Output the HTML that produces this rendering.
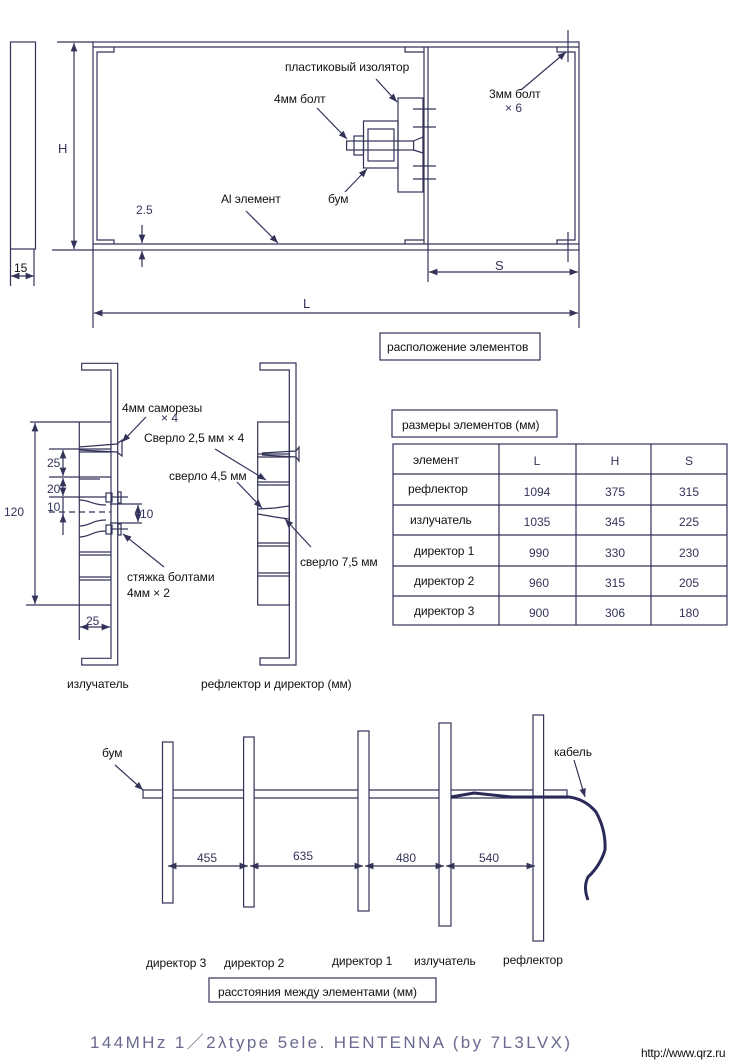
<!DOCTYPE html>
<html><head><meta charset="utf-8"><style>
html,body{margin:0;padding:0;background:#fff;}
svg{display:block;}
text{font-family:"Liberation Sans",sans-serif;font-size:12px;fill:#111;letter-spacing:-0.1px;}
.n{fill:#33335a;letter-spacing:0;}
</style></head><body>
<svg width="739" height="1060" viewBox="0 0 739 1060" xmlns="http://www.w3.org/2000/svg">
<defs>
<marker id="a" viewBox="0 0 10 10" refX="10" refY="5" markerWidth="7" markerHeight="7" orient="auto-start-reverse"><path d="M0,1 L10,5 L0,9 z" fill="#33335a"/></marker>
</defs>
<g stroke="#33335a" stroke-width="1.2" fill="none">
<rect x="10.5" y="42" width="25" height="207"/>
<line x1="10.5" y1="249" x2="10.5" y2="286"/><line x1="34" y1="249" x2="34" y2="286"/>
<line x1="11" y1="276" x2="34" y2="276" marker-start="url(#a)" marker-end="url(#a)"/>
<line x1="57" y1="42" x2="93" y2="42"/><line x1="52" y1="250" x2="93" y2="250"/>
<line x1="74" y1="43" x2="74" y2="249" marker-start="url(#a)" marker-end="url(#a)"/>
<rect x="93" y="42" width="486" height="208"/>
<line x1="93" y1="47" x2="579" y2="47"/><line x1="93" y1="244" x2="579" y2="244"/>
<path d="M114,47 V52 H97 V240 H114 V244"/>
<path d="M405,47 V52 H424 M405,244 V240 H424"/>
<line x1="424" y1="47" x2="424" y2="244"/><line x1="428" y1="47" x2="428" y2="282"/>
<path d="M557,47 V52 H575 V240 H557 V244"/>
<line x1="568" y1="30" x2="568" y2="62"/><line x1="568" y1="232" x2="568" y2="262"/>
<rect x="398" y="98" width="25" height="94"/>
<line x1="413" y1="109" x2="436" y2="109"/><line x1="413" y1="127" x2="436" y2="127"/>
<line x1="413" y1="166" x2="436" y2="166"/><line x1="413" y1="179" x2="436" y2="179"/>
<rect x="363.5" y="121" width="34.5" height="47"/>
<rect x="368" y="129" width="26" height="32"/>
<rect x="346.6" y="141" width="67" height="9"/>
<rect x="354" y="136" width="9.5" height="19"/>
<path d="M413.5,141 L423,137 V153 L413.5,150"/>
<line x1="376" y1="79" x2="397" y2="102" marker-end="url(#a)"/>
<line x1="317" y1="108" x2="347" y2="139" marker-end="url(#a)"/>
<line x1="345" y1="192" x2="367" y2="169" marker-end="url(#a)"/>
<line x1="246" y1="211" x2="278" y2="243" marker-end="url(#a)"/>
<line x1="521" y1="90" x2="566" y2="52" marker-end="url(#a)"/>
<line x1="142" y1="225" x2="142" y2="243" marker-end="url(#a)"/>
<line x1="142" y1="267" x2="142" y2="251" marker-end="url(#a)"/>
<line x1="429" y1="272" x2="578" y2="272" marker-start="url(#a)" marker-end="url(#a)"/>
<line x1="93" y1="250" x2="93" y2="328"/><line x1="579" y1="250" x2="579" y2="328"/>
<line x1="94" y1="313" x2="578" y2="313" marker-start="url(#a)" marker-end="url(#a)"/>
<rect x="380" y="333" width="160" height="27"/>

<path d="M81.7,363.3 H117.7 V665 H81.7 V658.3 H111 V370 H81.7 Z"/>
<line x1="79.3" y1="422" x2="79.3" y2="640"/>
<line x1="30" y1="422" x2="111" y2="422"/>
<line x1="26" y1="605" x2="111" y2="605"/>
<line x1="35" y1="423" x2="35" y2="604" marker-start="url(#a)" marker-end="url(#a)"/>
<line x1="49" y1="449" x2="111" y2="449"/><line x1="79" y1="452" x2="111" y2="452"/>
<line x1="49" y1="477" x2="111" y2="477"/><line x1="79" y1="479" x2="100" y2="479"/>
<line x1="49" y1="497" x2="106" y2="497"/>
<line x1="49" y1="512" x2="111" y2="512" stroke-dasharray="6,4"/>
<line x1="79" y1="552" x2="111" y2="552"/><line x1="79" y1="555" x2="111" y2="555"/>
<line x1="79" y1="577" x2="111" y2="577"/><line x1="79" y1="580" x2="111" y2="580"/>
<path d="M79,500 C90,500 92,505 106,505 M79,526 C90,526 92,520 106,520 M79,537 C90,537 92,531 106,531"/>
<line x1="63" y1="450" x2="63" y2="476" marker-start="url(#a)" marker-end="url(#a)"/>
<line x1="63" y1="478" x2="63" y2="496" marker-start="url(#a)" marker-end="url(#a)"/>
<line x1="63" y1="497" x2="63" y2="535"/>
<line x1="63" y1="522" x2="63" y2="514" marker-end="url(#a)"/>
<line x1="110" y1="504" x2="142" y2="504"/><line x1="110" y1="523" x2="142" y2="523"/>
<line x1="138" y1="505" x2="138" y2="522" marker-start="url(#a)" marker-end="url(#a)"/>
<rect x="106" y="493" width="6" height="9"/><rect x="118" y="492" width="3" height="11"/><line x1="112" y1="497" x2="128" y2="497"/>
<rect x="106" y="525" width="6" height="9"/><rect x="118" y="524" width="3" height="11"/><line x1="112" y1="529" x2="128" y2="529"/>
<path d="M79,447 L117,444 L122,440 V456 L117,452 L79,450"/>
<line x1="146" y1="417" x2="122" y2="442" marker-end="url(#a)"/>
<line x1="164" y1="567" x2="123" y2="534" marker-end="url(#a)"/>
<line x1="80" y1="627" x2="110" y2="627" marker-start="url(#a)" marker-end="url(#a)"/>
<path d="M260,363 H296 V665 H260 V658 H289.3 V370 H260 Z"/>
<rect x="257.7" y="422" width="31.6" height="183"/>
<line x1="258" y1="454" x2="289" y2="454"/><line x1="258" y1="457" x2="289" y2="457"/>
<line x1="258" y1="482" x2="289" y2="482"/><line x1="258" y1="485" x2="289" y2="485"/>
<path d="M258,509 L275,508 L289,506 M258,514 L275,517 L289,519"/>
<line x1="258" y1="543" x2="289" y2="543"/><line x1="258" y1="546" x2="289" y2="546"/>
<line x1="258" y1="573" x2="289" y2="573"/><line x1="258" y1="576" x2="289" y2="576"/>
<path d="M262,453 L296,451 L299,447 V461 L296,457 L262,455"/>
<line x1="215" y1="449" x2="266" y2="480" marker-end="url(#a)"/>
<line x1="237" y1="482" x2="262" y2="508" marker-end="url(#a)"/>
<line x1="311" y1="547" x2="285" y2="519" marker-end="url(#a)"/>
<rect x="392" y="410" width="165" height="27"/>
<rect x="393" y="444" width="334" height="181"/>
<line x1="499" y1="444" x2="499" y2="625"/><line x1="576" y1="444" x2="576" y2="625"/><line x1="651" y1="444" x2="651" y2="625"/>
<line x1="393" y1="474" x2="727" y2="474"/><line x1="393" y1="505" x2="727" y2="505"/><line x1="393" y1="535" x2="727" y2="535"/><line x1="393" y1="566" x2="727" y2="566"/><line x1="393" y1="596" x2="727" y2="596"/>
<path d="M143,790 H567 V798 H143 Z"/>
<rect x="162.5" y="742" width="10.5" height="161" fill="#fff"/>
<rect x="243.6" y="737" width="10.5" height="170" fill="#fff"/>
<rect x="358" y="731" width="11" height="180" fill="#fff"/>
<rect x="439" y="723" width="12" height="203" fill="#fff"/>
<rect x="533" y="715" width="10.6" height="226" fill="#fff"/>
<line x1="168" y1="866" x2="248" y2="866" marker-start="url(#a)" marker-end="url(#a)"/>
<line x1="250" y1="866" x2="363" y2="866" marker-start="url(#a)" marker-end="url(#a)"/>
<line x1="365" y1="866" x2="444" y2="866" marker-start="url(#a)" marker-end="url(#a)"/>
<line x1="446" y1="866" x2="535" y2="866" marker-start="url(#a)" marker-end="url(#a)"/>
<line x1="115" y1="765" x2="143" y2="790" marker-end="url(#a)"/>
<line x1="574" y1="760" x2="585" y2="797" marker-end="url(#a)"/>
<path d="M451,797 L474,793 L511,797 L569,797 Q585,799 596,812 Q606,830 605,850 Q600,866 588,877 Q583,887 588,900" stroke="#2a2a58" stroke-width="3"/>
<rect x="209" y="978" width="227" height="24"/>
</g>

<text x="14" y="272">15</text>
<text x="58" y="153" class="n" style="font-size:13px">H</text>
<text x="285" y="71">пластиковый изолятор</text>
<text x="274" y="103">4мм болт</text>
<text x="328" y="203">бум</text>
<text x="221" y="203">Al элемент</text>
<text x="136" y="214" class="n">2.5</text>
<text x="489" y="98">3мм болт</text>
<text x="505" y="112" class="n">× 6</text>
<text x="495" y="270" class="n" style="font-size:13px">S</text>
<text x="303" y="308" class="n" style="font-size:13px">L</text>
<text x="387" y="351">расположение элементов</text>

<text x="4" y="516" class="n">120</text>
<text x="47" y="467" class="n">25</text>
<text x="47" y="493" class="n">20</text>
<text x="47" y="511" class="n">10</text>
<text x="140" y="518" class="n">10</text>
<text x="122" y="412">4мм саморезы</text>
<text x="161" y="422" class="n">× 4</text>
<text x="127" y="581">стяжка болтами</text>
<text x="127" y="597">4мм × 2</text>
<text x="86" y="625" class="n">25</text>
<text x="67" y="688">излучатель</text>
<text x="144" y="442">Сверло 2,5 мм × 4</text>
<text x="169" y="480">сверло 4,5 мм</text>
<text x="300" y="566">сверло 7,5 мм</text>
<text x="201" y="688">рефлектор и директор (мм)</text>

<text x="402" y="429">размеры элементов (мм)</text>
<text x="413" y="464">элемент</text>
<text x="537" y="465" class="n" text-anchor="middle">L</text>
<text x="615" y="465" class="n" text-anchor="middle">H</text>
<text x="689" y="465" class="n" text-anchor="middle">S</text>
<text x="408" y="493">рефлектор</text>
<text x="410" y="524">излучатель</text>
<text x="414" y="555">директор 1</text>
<text x="414" y="585">директор 2</text>
<text x="414" y="615">директор 3</text>
<g text-anchor="middle">
<text x="537" y="496" class="n">1094</text><text x="615" y="496" class="n">375</text><text x="689" y="496" class="n">315</text>
<text x="537" y="526" class="n">1035</text><text x="615" y="526" class="n">345</text><text x="689" y="526" class="n">225</text>
<text x="539" y="557" class="n">990</text><text x="615" y="557" class="n">330</text><text x="689" y="557" class="n">230</text>
<text x="539" y="587" class="n">960</text><text x="615" y="587" class="n">315</text><text x="689" y="587" class="n">205</text>
<text x="539" y="617" class="n">900</text><text x="615" y="617" class="n">306</text><text x="689" y="617" class="n">180</text>
</g>

<text x="102" y="757">бум</text>
<text x="554" y="756">кабель</text>
<text x="207" y="862" class="n" text-anchor="middle">455</text>
<text x="303" y="860" class="n" text-anchor="middle">635</text>
<text x="406" y="862" class="n" text-anchor="middle">480</text>
<text x="489" y="862" class="n" text-anchor="middle">540</text>
<text x="146" y="967">директор 3</text>
<text x="224" y="967">директор 2</text>
<text x="332" y="965">директор 1</text>
<text x="414" y="965">излучатель</text>
<text x="503" y="964">рефлектор</text>
<text x="218" y="996">расстояния между элементами (мм)</text>
<text x="90" y="1048" style="font-size:17px;fill:#6a6a90;letter-spacing:0" textLength="480" lengthAdjust="spacing">144MHz 1／2λtype 5ele. HENTENNA (by 7L3LVX)</text>
<text x="641" y="1057" style="font-size:12px;letter-spacing:-0.3px">http://www.qrz.ru</text>
</svg>
</body></html>
